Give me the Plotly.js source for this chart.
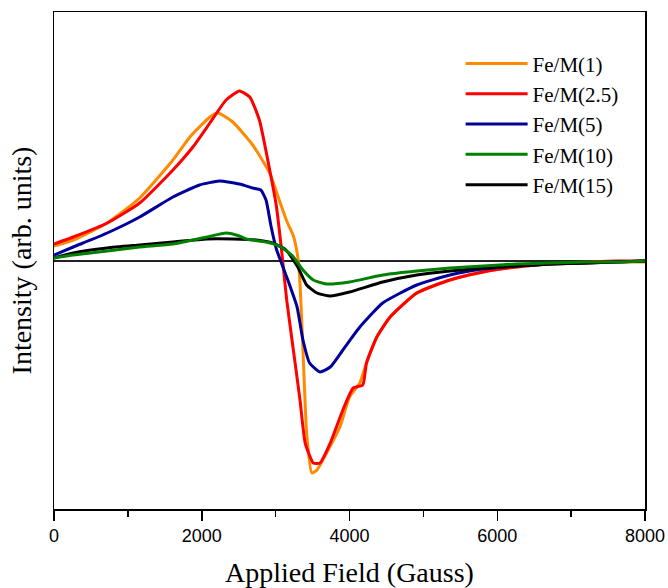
<!DOCTYPE html>
<html>
<head>
<meta charset="utf-8">
<script src="https://cdn.plot.ly/plotly-3.0.1.min.js"></script>
<style>html,body{margin:0;padding:0;background:#fff;}#chart{width:668px;height:588px;}</style>
</head>
<body>
<div id="chart"></div>
<script>
// Applied field (Gauss) and intensity (arb. units) for each sample
const seriesNames = ["Fe/M(1)", "Fe/M(2.5)", "Fe/M(5)", "Fe/M(10)", "Fe/M(15)"];

const fe1X = [0, 260, 720, 1160, 1610, 1840, 2110, 2220, 2420, 2690, 2920, 3030, 3150, 3240, 3300, 3330, 3370, 3420, 3490, 3560, 3690, 3870, 4000, 4140, 4230, 4370, 4550, 4910, 5360, 5810, 6260, 6710, 7200, 7600, 8000];
const fe1Y = [15, 21, 38, 63, 101, 124, 144, 148, 139, 116, 88, 65, 40, 25, 4, -22, -89, -172, -212, -209, -192, -166, -136, -122, -102, -76, -56, -32, -19, -11, -6, -3, -2, -1, -1];

const fe25X = [0, 260, 720, 1160, 1610, 1880, 2110, 2330, 2510, 2650, 2780, 2920, 3010, 3080, 3150, 3240, 3330, 3400, 3510, 3600, 3740, 3910, 4050, 4180, 4230, 4370, 4550, 4910, 5360, 5810, 6260, 6710, 7200, 7600, 8000];
const fe25Y = [17, 24, 38, 58, 91, 114, 138, 161, 170, 164, 141, 91, 55, 11, -39, -89, -139, -182, -202, -202, -182, -149, -127, -124, -102, -76, -56, -32, -19, -11, -6, -3, -1, 0, 0];

const fe5X = [0, 260, 720, 1160, 1610, 1970, 2240, 2510, 2690, 2800, 2870, 2940, 3010, 3150, 3290, 3370, 3460, 3600, 3740, 3910, 4140, 4450, 4910, 5360, 5810, 6260, 6710, 7200, 7600, 8000];
const fe5Y = [6, 14, 28, 44, 64, 76, 80, 77, 73, 71, 61, 34, 12, -16, -46, -79, -102, -111, -106, -89, -66, -42, -24, -14, -8, -5, -3, -2, -1, 0];

const fe10X = [0, 260, 720, 1160, 1610, 2070, 2330, 2510, 2600, 2870, 3050, 3230, 3370, 3510, 3690, 4000, 4450, 4910, 5360, 5810, 6260, 6710, 7200, 7600, 8000];
const fe10Y = [3, 6, 10, 14, 17, 24, 28, 25, 22, 19, 15, 5, -9, -19, -23, -21, -14, -10, -7, -5, -3, -2, -1, -1, 0];

const fe15X = [0, 260, 720, 1160, 1610, 2070, 2420, 2740, 2960, 3140, 3300, 3420, 3560, 3740, 4000, 4450, 4910, 5360, 5810, 6260, 6710, 7200, 7600, 8000];
const fe15Y = [3, 8, 13, 16, 19, 22, 22, 21, 18, 11, -6, -24, -32, -35, -31, -21, -14, -10, -7, -5, -3, -2, -1, 0];

const xTickVals = [0, 2000, 4000, 6000, 8000];
const xTickText = ["0", "2000", "4000", "6000", "8000"];

const colors = ["#ff8a00", "#ff0000", "#00009c", "#008000", "#000000"];
const SERIF = "Liberation Serif";
const SANS = "Liberation Sans";

function mk(x, y, i, rank) {
  return {
    x: x, y: y, name: seriesNames[i], type: "scatter", mode: "lines",
    line: {color: colors[i], width: 3, shape: "spline", smoothing: 0.5},
    legendrank: rank
  };
}

const traces = [
  mk(fe1X, fe1Y, 0, 1),
  mk(fe25X, fe25Y, 1, 2),
  mk(fe5X, fe5Y, 2, 3),
  mk(fe15X, fe15Y, 4, 5),
  mk(fe10X, fe10Y, 3, 4)
];

const layout = {
  width: 668, height: 588,
  margin: {l: 54, r: 23, t: 12, b: 79},
  paper_bgcolor: "#fff", plot_bgcolor: "#fff",
  font: {family: SERIF, color: "#000"},
  showlegend: true,
  legend: {
    x: 0.688, y: 0.937, xanchor: "left", yanchor: "top",
    bgcolor: "rgba(0,0,0,0)", borderwidth: 0,
    font: {family: SERIF, size: 21, color: "#000"},
    itemwidth: 62
  },
  xaxis: {
    range: [0, 8000], showgrid: false, zeroline: false,
    showline: true, linecolor: "#000", linewidth: 1.5, mirror: true,
    ticks: "outside", ticklen: 10, tickwidth: 1.5, tickcolor: "#000",
    tickmode: "array", tickvals: xTickVals, ticktext: xTickText,
    minor: {dtick: 1000, tick0: 0, ticks: "outside", ticklen: 6, tickwidth: 1.5, tickcolor: "#000"},
    tickfont: {family: SANS, size: 18, color: "#000"},
    title: {text: "Applied Field (Gauss)", font: {family: SERIF, size: 28, color: "#000"}, standoff: 18}
  },
  yaxis: {
    range: [-248, 249], showgrid: false,
    zeroline: true, zerolinecolor: "#222", zerolinewidth: 1.5,
    showline: true, linecolor: "#000", linewidth: 1.5, mirror: true,
    ticks: "", showticklabels: false,
    title: {text: "Intensity (arb. units)", font: {family: SERIF, size: 28, color: "#000"}, standoff: 12}
  }
};

Plotly.newPlot("chart", traces, layout, {displayModeBar: false, staticPlot: true});
</script>
</body>
</html>
